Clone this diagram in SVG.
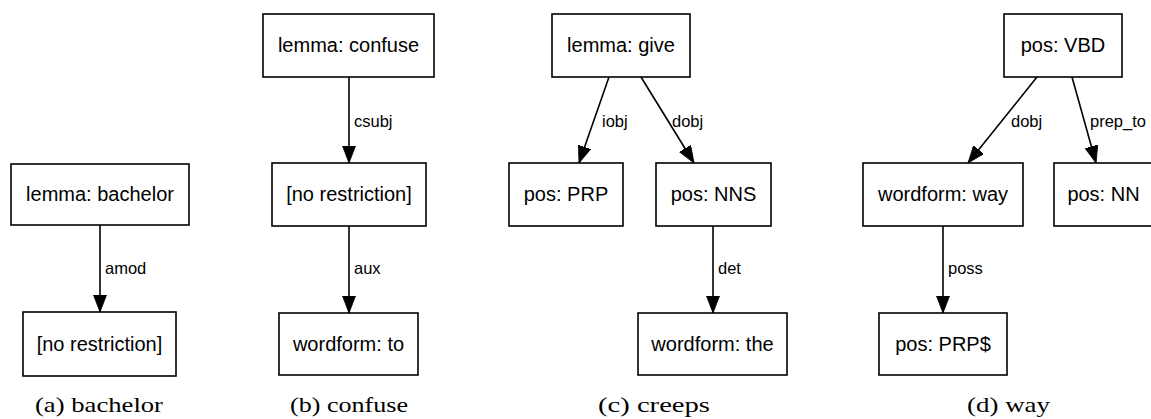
<svg xmlns="http://www.w3.org/2000/svg" width="1151" height="419" viewBox="0 0 1151 419">
<style>
.box{fill:#fff;stroke:#000;stroke-width:1.6}
.nt{font-family:"Liberation Sans",Arial,sans-serif;font-size:20px;fill:#000;text-anchor:middle}
.el{font-family:"Liberation Sans",Arial,sans-serif;font-size:16.5px;fill:#000}
.edge{stroke:#000;stroke-width:1.6;fill:none;marker-end:url(#ah)}
.cap{font-family:"Liberation Serif","Times New Roman",serif;font-size:21px;fill:#000}
</style>
<defs>
<marker id="ah" markerUnits="userSpaceOnUse" markerWidth="18" markerHeight="14" refX="17" refY="6.5" orient="auto">
<path d="M0,0 L17,6.5 L0,13 z" fill="#000" stroke="#000" stroke-width="0.8"/>
</marker>
</defs>
<rect width="1151" height="419" fill="#fff"/>
<g id="connectors">
<line class="edge" x1="100" y1="225" x2="100" y2="312"/>
<line class="edge" x1="349" y1="77" x2="349" y2="163"/>
<line class="edge" x1="349" y1="226" x2="349" y2="313"/>
<line class="edge" x1="609" y1="77" x2="579" y2="163"/>
<line class="edge" x1="641" y1="77" x2="694" y2="163"/>
<line class="edge" x1="713" y1="226" x2="713" y2="313"/>
<line class="edge" x1="1037" y1="77" x2="968" y2="163"/>
<line class="edge" x1="1072" y1="77" x2="1096" y2="163"/>
<line class="edge" x1="943" y1="226" x2="943" y2="313"/>
<text class="el" x="105" y="274">amod</text>
<text class="el" x="354" y="127">csubj</text>
<text class="el" x="354" y="274">aux</text>
<text class="el" x="602" y="127">iobj</text>
<text class="el" x="672" y="127">dobj</text>
<text class="el" x="718" y="274">det</text>
<text class="el" x="1011" y="127">dobj</text>
<text class="el" x="1090" y="127">prep_to</text>
<text class="el" x="948" y="274">poss</text>
</g>
<g id="a1"><rect class="box" x="11" y="164" width="178" height="61"/><text class="nt" x="100" y="201">lemma: bachelor</text></g>
<g id="a2"><rect class="box" x="23" y="312" width="153" height="64"/><text class="nt" x="99.5" y="351">[no restriction]</text></g>
<g id="b1"><rect class="box" x="263" y="14" width="171" height="63"/><text class="nt" x="348.5" y="52">lemma: confuse</text></g>
<g id="b2"><rect class="box" x="272" y="163" width="154" height="63"/><text class="nt" x="349" y="201">[no restriction]</text></g>
<g id="b3"><rect class="box" x="279" y="313" width="139" height="62"/><text class="nt" x="348.5" y="351">wordform: to</text></g>
<g id="c1"><rect class="box" x="552" y="14" width="138" height="63"/><text class="nt" x="621" y="52">lemma: give</text></g>
<g id="c2"><rect class="box" x="509" y="163" width="114" height="63"/><text class="nt" x="566" y="201">pos: PRP</text></g>
<g id="c3"><rect class="box" x="656" y="163" width="115" height="63"/><text class="nt" x="713.5" y="201">pos: NNS</text></g>
<g id="c4"><rect class="box" x="638" y="313" width="149" height="62"/><text class="nt" x="712.5" y="351">wordform: the</text></g>
<g id="d1"><rect class="box" x="1004" y="14" width="118" height="63"/><text class="nt" x="1063" y="52">pos: VBD</text></g>
<g id="d2"><rect class="box" x="863" y="163" width="160" height="63"/><text class="nt" x="943" y="201">wordform: way</text></g>
<g id="d3"><rect class="box" x="1054" y="163" width="99" height="63"/><text class="nt" x="1103.5" y="201">pos: NN</text></g>
<g id="d4"><rect class="box" x="879" y="313" width="128" height="62"/><text class="nt" x="943" y="351">pos: PRP$</text></g>
<g id="captions">
<text class="cap" x="35" y="412" textLength="128" lengthAdjust="spacingAndGlyphs">(a) bachelor</text>
<text class="cap" x="290" y="412" textLength="118" lengthAdjust="spacingAndGlyphs">(b) confuse</text>
<text class="cap" x="598" y="412" textLength="112" lengthAdjust="spacingAndGlyphs">(c) creeps</text>
<text class="cap" x="967" y="412" textLength="83" lengthAdjust="spacingAndGlyphs">(d) way</text>
</g>
</svg>
